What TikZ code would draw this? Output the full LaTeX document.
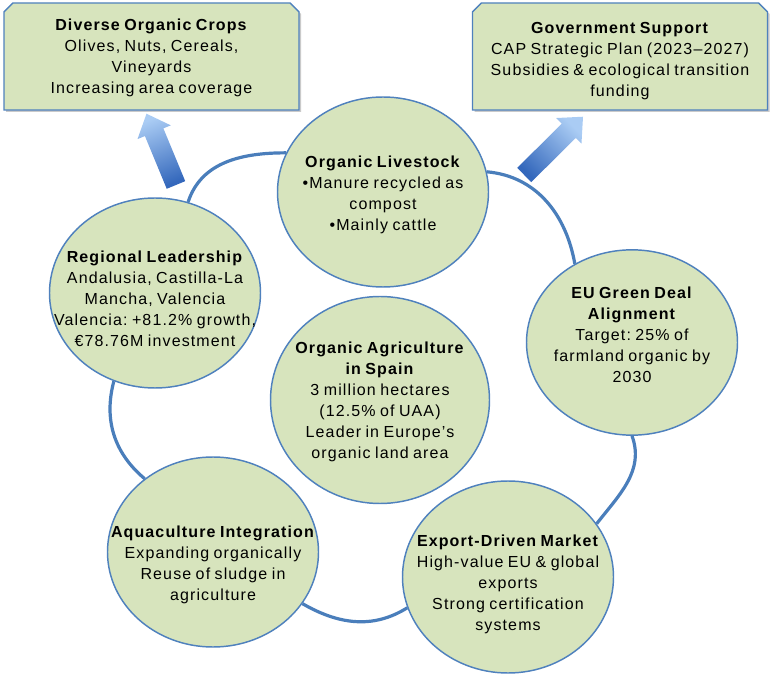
\documentclass[tikz,border=0pt]{standalone}
\usepackage{fontspec}
\setmainfont{Liberation Sans}[LetterSpace=7,WordSpace=0.8]
\frenchspacing
\usepackage{tikz}
\usetikzlibrary{calc,shapes.geometric,shapes.misc,shadows}
\definecolor{SPgreen}{RGB}{215,228,189}
\definecolor{SPblue}{RGB}{79,129,189}
\definecolor{SParc}{RGB}{74,126,187}
\definecolor{SPlight}{RGB}{170,204,244}
\definecolor{SPdark}{RGB}{52,104,188}

% shaded block arrow from #1 to #2, #3 = shading angle
\newcommand{\blockarrow}[3]{%
  \coordinate (#2-n) at ($(#2)!15pt!(#1)$);
  \shade[top color=SPlight,bottom color=SPdark,shading angle=#3]
    ($(#1)!7.5pt!90:(#2)$) -- ($(#2-n)!7.5pt!90:(#2)$) -- ($(#2-n)!13.5pt!90:(#2)$)
    -- (#2) -- ($(#2-n)!13.5pt!-90:(#2)$) -- ($(#2-n)!7.5pt!-90:(#2)$)
    -- ($(#1)!7.5pt!-90:(#2)$) -- cycle;}

\begin{document}
\begin{tikzpicture}[x=0.75pt,y=0.75pt,
    bubble/.style={ellipse,draw=SPblue,line width=1.1pt,fill=SPgreen,
      minimum width=158.25pt,minimum height=142.5pt,inner sep=0pt},
    card/.style={chamfered rectangle,chamfered rectangle corners={north west,north east},
      chamfered rectangle xsep=12.75pt,chamfered rectangle ysep=13.5pt,
      draw=SPblue,line width=1.1pt,fill=SPgreen,minimum width=221.25pt,minimum height=80.25pt,
      drop shadow={shadow xshift=1.5pt,shadow yshift=-1.5pt,opacity=0.35,fill=black!60}},
    txt/.style={align=center,font=\fontsize{12}{15.75}\selectfont,inner sep=0pt},
    link/.style={draw=SParc,line width=2.4pt}]
    \useasboundingbox (0,0) rectangle (774,682);

    % top boxes
    \node[card] (crops) at (151.5,625.5) {};
    \node[card] (gov) at (620,625.5) {};
    \node[txt] (crops-t) at ($(crops)+(0,-1.5)$) {\textbf{Diverse Organic Crops}\\Olives, Nuts, Cereals,\\Vineyards\\Increasing area coverage};
    \node[txt] (gov-t) at ($(gov)+(0,-5)$) {\textbf{Government Support}\\CAP Strategic Plan (2023–2027)\\Subsidies \& ecological transition\\funding};

    % the cycle
    \node[bubble] (live) at (383,490) {};
    \node[bubble] (lead) at (155,389) {};
    \node[bubble,minimum height=139pt] (eu) at (632,339.5) {};
    \node[bubble,minimum height=144pt] (exp) at (508,105) {};
    \node[bubble] (aqua) at (213,130) {};
    \node[bubble,minimum width=164.25pt,minimum height=155.25pt] (spain) at (380,282) {};

    \node[txt] (live-t) at ($(live)+(0,-2.5)$) {\textbf{Organic Livestock}\\\textbullet Manure recycled as\\compost\\\textbullet Mainly cattle};
    \node[txt] (lead-t) at ($(lead)+(0,-6)$) {\textbf{Regional Leadership}\\Andalusia, Castilla-La\\Mancha, Valencia\\Valencia: +81.2\% growth,\\€78.76M investment};
    \node[txt] (eu-t) at ($(eu)+(0,7.5)$) {\textbf{EU Green Deal}\\\textbf{Alignment}\\Target: 25\% of\\farmland organic by\\2030};
    \node[txt] (exp-t) at ($(exp)+(0,-7.5)$) {\textbf{Export-Driven Market}\\High-value EU \& global\\exports\\Strong certification\\systems};
    \node[txt] (aqua-t) at ($(aqua)+(0,-13)$) {\textbf{Aquaculture Integration}\\Expanding organically\\Reuse of sludge in\\agriculture};
    \node[txt] (spain-t) at ($(spain)+(0,-1.5)$) {\textbf{Organic Agriculture}\\\textbf{in Spain}\\3 million hectares\\(12.5\% of UAA)\\Leader in Europe’s\\organic land area};

    \draw[link] (lead.70) to[out=72,in=180] (live.158);
    \draw[link] (live.11) to[out=-5,in=100] (eu.126);
    \draw[link] (eu.270) to[out=-70,in=52] (exp.31);
    \draw[link] (exp.197) to[out=212,in=330] (aqua.330);
    \draw[link] (aqua.133) to[out=140,in=255] (lead.245);

    % block arrows up to the boxes
    \coordinate (b1) at ($(lead.78)+(1,14)$);
    \coordinate (t1) at ($(crops.south)+(-5,-3)$);
    \coordinate (b2) at ($(live.east)+(35,17)$);
    \coordinate (t2) at ($(gov.south)+(-37,-6)$);
    \blockarrow{b1}{t1}{22}
    \blockarrow{b2}{t2}{-45}
\end{tikzpicture}
\end{document}
